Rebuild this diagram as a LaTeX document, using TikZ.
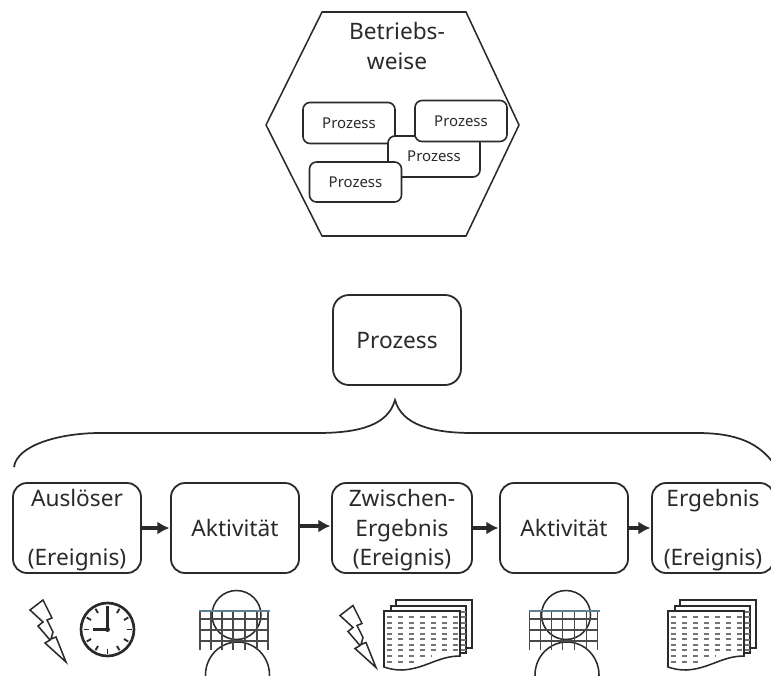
\documentclass[tikz,border=0pt]{standalone}
\usepackage{fontspec}
\setmainfont{Noto Sans}
\usetikzlibrary{arrows.meta}
\definecolor{ink}{HTML}{2A2A2A}
\definecolor{gridblue}{HTML}{5F7F95}
\newcommand{\lowline}[1]{\raisebox{-6pt}[0pt][0pt]{#1}}
\tikzset{
  base/.style={draw=ink,line width=1.35pt,rounded corners=14*0.75pt,fill=white,inner sep=0pt,text=ink,align=center},
  rowbox/.style={base,minimum height=90*0.75pt,font=\fontsize{17}{22.1}\selectfont},
  smallbox/.style={base,line width=1.2pt,rounded corners=7*0.75pt,minimum height=41*0.75pt,minimum width=92*0.75pt,font=\fontsize{11.2}{13}\selectfont},
  flow/.style={draw=ink,line width=2.6pt,-{Latex[length=12*0.75pt,width=13*0.75pt]},shorten >=0.5pt},
  thinline/.style={draw=ink,line width=1.15pt},
  gridline/.style={draw=ink!85,line width=1pt},
  dashrow/.style={draw=ink!65,line width=0.8pt,dash pattern=on 3.8pt off 4.4pt}
}
\newcommand{\boltshape}[2]{%
  \begin{scope}[shift={(#1,#2)}]
    \draw[thinline,line join=miter,fill=white] (43,600) -- (30,610) -- (43,622) -- (38,626) -- (50,640) -- (45,643) -- (66,662) -- (56,637) -- (51,639) -- (53,632) -- (47,620) -- (52,618) -- cycle;
  \end{scope}}
\newcommand{\personshape}[2]{%
  \begin{scope}[shift={(#1,#2)}]
    \draw[thinline] (236.5,615) circle [radius=24.5];
    \draw[thinline] (237.5,675) ellipse [x radius=32,y radius=33];
    \foreach \gx in {200,211,222,233,245,257,268}{\draw[gridline] (\gx,611) -- (\gx,650);}
    \foreach \gy in {619,630,641}{\draw[gridline] (200,\gy) -- (268,\gy);}
    \draw[draw=gridblue,line width=1.5pt] (199,611) -- (270,611);
  \end{scope}}
\newcommand{\docshape}[2]{%
  \begin{scope}[shift={(#1,#2)}]
    \draw[thinline,fill=white] (396,600) rectangle (472,648);
    \foreach \dy in {606,612,617,623,628,634,640,645}{\draw[dashrow] (462,\dy) -- (472,\dy);}
    \draw[thinline,fill=white] (391,606) rectangle (466,653);
    \foreach \dy in {612,617,623,628,634,640,645,650}{\draw[dashrow] (461,\dy) -- (466,\dy);}
    \draw[thinline,fill=white] (384,611) -- (460,611) -- (460,656) .. controls (438,656) and (425,669) .. (402,670) .. controls (395,670) and (390,669) .. (384,667) -- cycle;
    \foreach \dy in {617,623,628,634,639,645,650}{\draw[dashrow] (387,\dy) -- (459,\dy);}
    \draw[dashrow] (387,656) -- (432,656);
    \draw[dashrow] (387,662) -- (414,662);
  \end{scope}}
\begin{document}
\begin{tikzpicture}[x=0.75pt,y=-0.75pt]
\useasboundingbox (0,0) rectangle (771,675);
\begin{scope}
\clip (0,0) rectangle (771,675);
% Hexagon
\draw[thinline] (322,12) -- (466,12) -- (519,125) -- (466,236) -- (322,236) -- (266,125) -- cycle;
\node[text=ink,align=center,font=\fontsize{17}{22.1}\selectfont] (title) at (397,46) {Betriebs-\\weise};
\node[smallbox] (p1) at (349,123) {Prozess};
\node[smallbox,minimum width=92*0.75pt] (p3) at (434,156.5) {Prozess};
\node[smallbox] (p2) at (461,121) {Prozess};
\node[smallbox,minimum height=40*0.75pt] (p4) at (355.5,182) {Prozess};
% Main box
\node[rowbox,rounded corners=16*0.75pt,minimum width=128*0.75pt] (main) at (397,340) {\lowline{Prozess}};
% Brace
\coordinate (bl) at (14,467);
\coordinate (bt) at (395,400);
\coordinate (br) at (776,467);
\draw[draw=ink,line width=1.3pt] (bl) .. controls (17,445) and (60,433) .. (100,433) -- (317,433) .. controls (360,433) and (388,425) .. (bt) .. controls (402,425) and (432,433) .. (473,433) -- (697,433) .. controls (735,433) and (760,442) .. (br);
% Row
\node[rowbox,minimum width=128*0.75pt] (a) at (77,528) {\lowline{Auslöser}\\\mbox{}\\\lowline{(Ereignis)}};
\node[rowbox,minimum width=128*0.75pt] (b) at (235,528) {\lowline{Aktivität}};
\node[rowbox,minimum width=140*0.75pt] (c) at (402,528) {\lowline{Zwischen-}\\\lowline{Ergebnis}\\\lowline{(Ereignis)}};
\node[rowbox,minimum width=128*0.75pt] (d) at (564,528) {\lowline{Aktivität}};
\node[rowbox,minimum width=122*0.75pt] (e) at (713,528) {\lowline{Ergebnis}\\\mbox{}\\\lowline{(Ereignis)}};
\draw[flow] (a.east) -- (b.west);
\draw[flow] ([yshift=1.5pt]b.east) -- ([yshift=1.5pt]c.west);
\draw[flow] (c.east) -- (d.west);
\draw[flow] (d.east) -- (e.west);
% Icons
\boltshape{0}{0}
\boltshape{310}{5.5}
\draw[draw=ink,line width=2pt] (107.5,629.5) circle [radius=26.5];
\foreach \ang in {30,60,90,120,150,180,210,240,270,300,330,0}{
  \draw[draw=ink,line width=1.4pt] (107.5,629.5) ++(\ang:19) -- ++(\ang:5);}
\draw[draw=ink,line width=1.7pt] (107.5,629.5) -- (107.5,606);
\draw[draw=ink,line width=1.7pt] (107.5,629.5) -- (93,629.5);
\fill[ink] (107.5,629.5) circle [radius=2.5];
\personshape{0}{0}
\personshape{329.5}{0}
\docshape{0}{0}
\docshape{284}{0}
\end{scope}
\end{tikzpicture}
\end{document}
